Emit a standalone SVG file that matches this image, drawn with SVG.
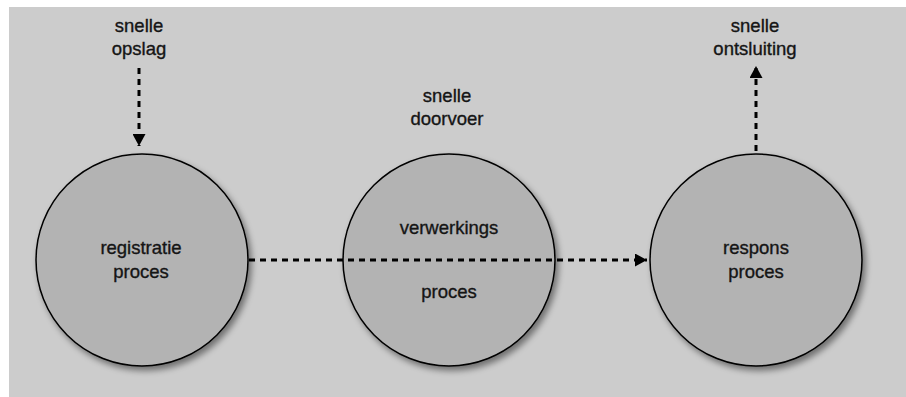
<svg xmlns="http://www.w3.org/2000/svg" width="906" height="397" viewBox="0 0 906 397">
<defs>
<style>
.node{fill:#b3b3b3;stroke:#000;stroke-width:1.5;filter:url(#sh)}
.t{font-family:"Liberation Sans",Arial,sans-serif;font-size:18.5px;fill:#151515;stroke:#151515;stroke-width:0.35;text-anchor:middle}
.c{fill:none;stroke:#000;stroke-width:3;stroke-dasharray:6 5}
</style>
<filter id="sh" x="-20%" y="-20%" width="150%" height="150%">
<feDropShadow dx="3" dy="4" stdDeviation="3" flood-color="#000" flood-opacity="0.45"/>
</filter>
<marker id="ah" viewBox="0 0 12 13" refX="12" refY="6.5" markerWidth="12" markerHeight="13" markerUnits="userSpaceOnUse" orient="auto">
<path d="M0,0 L12,6.5 L0,13 Z" fill="#000"/>
</marker>
</defs>
<rect x="9" y="7" width="897" height="390" fill="#cccccc"/>
<g id="n-registratie">
<circle class="node" cx="142" cy="260" r="106"/>
<text class="t" x="141" y="254">registratie</text>
<text class="t" x="141" y="278">proces</text>
</g>
<g id="n-verwerkings">
<circle class="node" cx="449" cy="260" r="106"/>
<text class="t" x="449" y="234">verwerkings</text>
<text class="t" x="449" y="298">proces</text>
</g>
<g id="n-respons">
<circle class="node" cx="756" cy="260" r="106"/>
<text class="t" x="756" y="254">respons</text>
<text class="t" x="756" y="278">proces</text>
</g>
<g id="labels">
<text class="t" x="139" y="32">snelle</text>
<text class="t" x="139" y="55">opslag</text>
<text class="t" x="447" y="102">snelle</text>
<text class="t" x="447" y="125">doorvoer</text>
<text class="t" x="755" y="32">snelle</text>
<text class="t" x="755" y="55">ontsluiting</text>
</g>
<g id="connectors">
<line class="c" x1="139" y1="68" x2="139" y2="146" marker-end="url(#ah)"/>
<line class="c" x1="249" y1="260" x2="647" y2="260" marker-end="url(#ah)"/>
<line class="c" x1="756" y1="151" x2="756" y2="66" marker-end="url(#ah)"/>
</g>
</svg>
